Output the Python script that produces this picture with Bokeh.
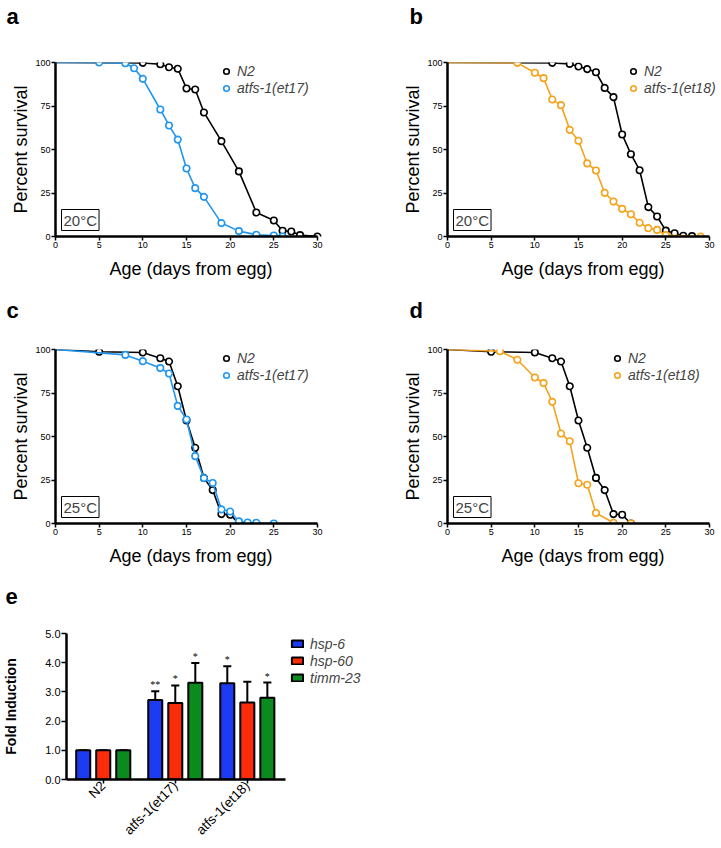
import numpy as np
from bokeh.plotting import figure
from bokeh.models import (Legend, LegendItem, Label, FixedTicker,
                          NumeralTickFormatter, Range1d)
from bokeh.layouts import column, row
from bokeh.embed import file_html
from bokeh.resources import INLINE

# ---------------- data ----------------
# panel a (20 C)
a_n2_day = [0, 10, 12, 13, 14, 15, 16, 17, 19, 21, 23, 25, 26, 27, 28, 30]
a_n2_surv = [100, 99.8, 99.0, 97.3, 96.4, 85.1, 84.5, 71.3, 54.8, 37.4, 13.8, 9.2, 3.3, 2.9, 0.8, 0]
a_mut_day = [0, 5, 8, 9, 10, 12, 13, 14, 15, 16, 17, 19, 21, 23, 25, 26]
a_mut_surv = [100, 100, 99.6, 96.7, 90.6, 73.0, 63.8, 55.7, 39.1, 27.8, 22.8, 7.7, 3.1, 1.0, 0.6, 0]

# panel b (20 C)
b_n2_day = [0, 12, 14, 15, 16, 17, 18, 19, 20, 21, 22, 23, 24, 25, 26, 27, 28]
b_n2_surv = [100, 99.8, 99.2, 97.7, 96.2, 94.4, 85.4, 80.1, 58.6, 47.3, 38.1, 16.9, 11.5, 3.4, 1.9, 0.4, 0.2]
b_mut_day = [0, 8, 10, 11, 12, 13, 14, 15, 16, 17, 18, 19, 20, 21, 22, 23, 24, 25, 29]
b_mut_surv = [100, 99.8, 94.1, 91.0, 78.7, 75.5, 61.3, 55.0, 42.0, 37.9, 25.1, 20.1, 15.9, 12.8, 7.9, 4.8, 3.8, 0.8, 0]

# panels c, d (25 C) - shared N2 control
cd_n2_day = [0, 5, 10, 12, 13, 14, 15, 16, 17, 18, 19, 20, 21]
cd_n2_surv = [100, 98.7, 98.3, 95.0, 93.1, 78.9, 59.2, 43.5, 26.2, 19.2, 5.4, 5.0, 0]
c_mut_day = [0, 8, 10, 12, 13, 14, 15, 16, 17, 18, 19, 20, 21, 22, 23, 25]
c_mut_surv = [100, 96.9, 93.3, 89.3, 86.2, 67.6, 59.8, 38.7, 26.1, 23.3, 8.1, 6.9, 1.2, 0.6, 0.4, 0]
d_mut_day = [0, 6, 8, 10, 11, 12, 13, 14, 15, 16, 17, 19, 21]
d_mut_surv = [100, 99.0, 94.1, 83.9, 80.7, 69.9, 51.7, 47.3, 23.1, 22.3, 6.0, 0.4, 0]

x_ticks = [0, 5, 10, 15, 20, 25, 30]
y_ticks = [0, 25, 50, 75, 100]

# panel e
genotypes = ["N2", "atfs-1(et17)", "atfs-1(et18)"]
genes = ["hsp-6", "hsp-60", "timm-23"]
hsp6 = [1.0, 2.72, 3.30]
hsp6_err = [0.0, 0.30, 0.58]
hsp60 = [1.0, 2.62, 2.64]
hsp60_err = [0.0, 0.60, 0.71]
timm23 = [1.0, 3.31, 2.80]
timm23_err = [0.0, 0.68, 0.52]
hsp6_sig = ["", "**", "*"]
hsp60_sig = ["", "*", ""]
timm23_sig = ["", "*", "*"]
e_ticks = [0, 1, 2, 3, 4, 5]

FONT = "Liberation Sans"
BLUE_L = "#2196f0"
ORANGE_L = "#f7a21b"
BAR_COLORS = ["#1c3cf4", "#fb2c0a", "#0b8a1e"]


def style_axes(p, tick_size):
    p.outline_line_color = None
    p.grid.visible = False
    p.background_fill_color = "white"
    p.border_fill_color = "white"
    for ax in (p.xaxis[0], p.yaxis[0]):
        ax.axis_line_width = 2.5
        ax.axis_line_color = "black"
        ax.major_tick_line_width = 1.5
        ax.major_tick_in = 0
        ax.major_tick_out = 4
        ax.minor_tick_line_color = None
        ax.major_label_text_font = FONT
        ax.major_label_text_font_size = tick_size
        ax.major_label_text_color = "black"
        ax.axis_label_text_font = FONT
        ax.axis_label_text_color = "black"


def set_letter(p, letter, offset, standoff, line_height):
    # the blank second line lifts the panel letter into the top border
    p.title.text = letter + "\n "
    p.title.align = "left"
    p.title.vertical_align = "top"
    p.title.offset = offset
    p.title.standoff = standoff
    p.title.text_font = FONT
    p.title.text_font_size = "22px"
    p.title.text_font_style = "bold"
    p.title.text_color = "black"
    p.title.text_line_height = line_height


FW, FH = 271, 174           # frame incl. small pad right of day 30
X_END = 30 * 271 / 262


def survival_panel(n2_day, n2_surv, mut_day, mut_surv, mut_color, mut_name, temp,
                   letter, letter_off, letter_standoff, letter_lh,
                   bl, br, bt, bb, leg_x):
    p = figure(frame_width=FW, frame_height=FH,
               x_range=Range1d(0, X_END), y_range=Range1d(0, 100),
               min_border_left=bl, min_border_right=br,
               min_border_top=bt, min_border_bottom=bb,
               output_backend="svg", toolbar_location=None)
    style_axes(p, "9px")
    set_letter(p, letter, letter_off, letter_standoff, letter_lh)
    p.xaxis.ticker = FixedTicker(ticks=x_ticks)
    p.yaxis.ticker = FixedTicker(ticks=y_ticks)
    p.xaxis.bounds = (0, 30)
    p.xaxis.major_label_standoff = 1
    p.yaxis.major_label_standoff = 1
    p.xaxis.axis_label = "Age (days from egg)"
    p.yaxis.axis_label = "Percent survival"
    for ax in (p.xaxis[0], p.yaxis[0]):
        ax.axis_label_text_font_size = "18px"
        ax.axis_label_text_font_style = "normal"
    p.xaxis.axis_label_standoff = 8
    p.yaxis.axis_label_standoff = 1

    p.line(n2_day, n2_surv, line_color="black", line_width=1.6)
    r1 = p.scatter(n2_day[1:], n2_surv[1:], size=6.5, marker="circle",
                   fill_color="white", line_color="black", line_width=1.6)
    p.line(mut_day, mut_surv, line_color=mut_color, line_width=1.6)
    r2 = p.scatter(mut_day[1:], mut_surv[1:], size=6.5, marker="circle",
                   fill_color="white", line_color=mut_color, line_width=1.6)

    leg = Legend(items=[LegendItem(label="N2", renderers=[r1]),
                        LegendItem(label=mut_name, renderers=[r2])],
                 location=(leg_x, 140), padding=0, margin=0, spacing=0,
                 glyph_width=14, glyph_height=14, label_height=17,
                 label_standoff=4, border_line_color=None,
                 background_fill_alpha=0)
    leg.label_text_font = FONT
    leg.label_text_font_size = "14px"
    leg.label_text_font_style = "italic"
    p.add_layout(leg)

    p.add_layout(Label(x=6, y=6, x_units="screen", y_units="screen", text=temp,
                       text_font=FONT, text_font_size="15px",
                       border_line_color="black", border_line_width=1,
                       background_fill_color="white", padding=2))
    return p


pa = survival_panel(a_n2_day, a_n2_surv, a_mut_day, a_mut_surv, BLUE_L, "atfs-1(et17)",
                    "20°C", "a", -49, 2.6, 1.2, 55, 34, 62, 49, 164)
pb = survival_panel(b_n2_day, b_n2_surv, b_mut_day, b_mut_surv, ORANGE_L, "atfs-1(et18)",
                    "20°C", "b", -38, 2.6, 1.2, 87, 2, 62, 49, 179)
pc = survival_panel(cd_n2_day, cd_n2_surv, c_mut_day, c_mut_surv, BLUE_L, "atfs-1(et17)",
                    "25°C", "c", -49, 0, 1.0, 55, 34, 64, 59, 164)
pd = survival_panel(cd_n2_day, cd_n2_surv, d_mut_day, d_mut_surv, ORANGE_L, "atfs-1(et18)",
                    "25°C", "d", -38, 0, 1.0, 87, 2, 64, 59, 163)

# ---------------- panel e ----------------
pe = figure(frame_width=219, frame_height=146,
            x_range=Range1d(-0.51, 2.53), y_range=Range1d(0, 5),
            min_border_left=63, min_border_right=120,
            min_border_top=51, min_border_bottom=69,
            output_backend="svg", toolbar_location=None)
style_axes(pe, "11px")
set_letter(pe, "e", -61, 0, 0.9)
pe.yaxis.ticker = FixedTicker(ticks=e_ticks)
pe.yaxis.formatter = NumeralTickFormatter(format="0.0")
pe.yaxis.major_tick_out = 5
pe.yaxis.major_label_standoff = 1
pe.yaxis.axis_label = "Fold Induction"
pe.yaxis.axis_label_text_font_size = "14px"
pe.yaxis.axis_label_text_font_style = "bold"
pe.yaxis.axis_label_standoff = 23
pe.xaxis.ticker = FixedTicker(ticks=[0, 1, 2])
pe.xaxis.major_label_overrides = {i: g for i, g in enumerate(genotypes)}
pe.xaxis.major_label_orientation = np.pi / 4
pe.xaxis.major_label_text_font_size = "13.5px"
pe.xaxis.major_label_standoff = 0
pe.xaxis.major_tick_out = 4

offsets = [-0.278, 0.0, 0.278]
bw = 0.195
capw = 0.056
items = []
groups = np.arange(len(genotypes))
for k, (vals, errs, sig) in enumerate([(hsp6, hsp6_err, hsp6_sig),
                                       (hsp60, hsp60_err, hsp60_sig),
                                       (timm23, timm23_err, timm23_sig)]):
    xs = groups + offsets[k]
    vals = np.array(vals)
    tops = vals + np.array(errs)
    pe.segment(xs, vals, xs, tops, line_color="black", line_width=2)
    pe.segment(xs - capw, tops, xs + capw, tops, line_color="black", line_width=2)
    r = pe.vbar(x=xs, top=vals, bottom=0, width=bw, fill_color=BAR_COLORS[k],
                line_color="black", line_width=2)
    pe.text(xs, tops, text=sig, text_align="center", text_baseline="bottom",
            text_font_size="10px", text_font=FONT, y_offset=-1)
    items.append(LegendItem(label=genes[k], renderers=[r]))

leg_e = Legend(items=items, location=(5, 93), padding=0, margin=0, spacing=0,
               glyph_width=14, glyph_height=9, label_height=17, label_standoff=6,
               border_line_color=None, background_fill_alpha=0)
leg_e.label_text_font = FONT
leg_e.label_text_font_size = "14px"
leg_e.label_text_font_style = "italic"
pe.add_layout(leg_e, "right")

layout = column(row(pa, pb, spacing=0), row(pc, pd, spacing=0), pe, spacing=0)
open("out.html", "w").write(file_html(layout, INLINE))
